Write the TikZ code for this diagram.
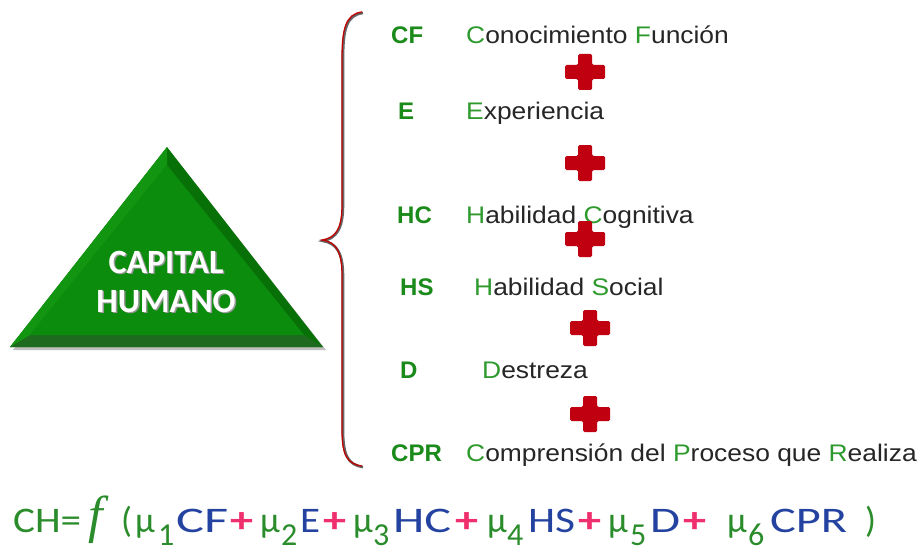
\documentclass[tikz,border=0pt]{standalone}
\usepackage{fontspec}
\setmainfont{Liberation Sans}
\newfontfamily\carl{Carlito}
\newfontfamily\fserif{Liberation Serif}
\definecolor{tri}{HTML}{0C8C0C}
\definecolor{trileft}{HTML}{129612}
\definecolor{triright}{HTML}{077007}
\definecolor{tribot}{HTML}{1E6A1E}
\definecolor{abg}{HTML}{1A8A1A}
\definecolor{lg}{HTML}{2E9A2E}
\definecolor{crossred}{HTML}{C00010}
\definecolor{bracered}{HTML}{C00000}
\definecolor{fgreen}{HTML}{2A8C2A}
\definecolor{fblue}{HTML}{2443A0}
\definecolor{fpink}{HTML}{F0306E}
\newcommand\gl[1]{{\color{lg}#1}}
\newcommand\pc[2]{\makebox[#1pt][l]{#2}}
\newcommand\gmu[1]{\pc{#1}{\color{fgreen}μ}}
\newcommand\gsub[2]{\pc{#1}{\raisebox{-13pt}{\fontsize{32}{34}\selectfont\color{fgreen}#2}}}
\newcommand\bw[3]{\pc{#1}{\resizebox{#2pt}{\height}{\color{fblue}#3}}}
\newcommand\fplus[1]{\pc{#1}{\resizebox{23pt}{\height}{\bfseries\color{fpink}+}}}
\newcommand\shadowed[1]{\makebox[0pt][l]{\raisebox{-1.5pt}{\hspace{1.5pt}\color{black!40}#1}}#1}
\tikzset{
  abbr/.style={anchor=base west, inner sep=0pt, text=abg, font=\bfseries\fontsize{24}{28}\selectfont},
  desc/.style={anchor=base west, inner sep=0pt, text=black!85, font=\fontsize{24}{28}\selectfont},
  tritext/.style={font=\carl\bfseries\fontsize{34}{38}\selectfont, text=white, inner sep=0pt},
  redplus/.pic={
    \fill[crossred, rounded corners=1.5pt] (-7,-18) -- (7,-18) -- (7,-7) -- (20,-7) -- (20,7) -- (7,7) -- (7,18) -- (-7,18) -- (-7,7) -- (-20,7) -- (-20,-7) -- (-7,-7) -- cycle;
  }
}
\begin{document}
\begin{tikzpicture}[x=1pt,y=-1pt]
\path[use as bounding box, fill=white] (0,0) rectangle (924,551);
% triangle
\coordinate (A) at (167,147);
\coordinate (B) at (10,347);
\coordinate (C) at (323,347);
\coordinate (Ai) at (167,165);
\coordinate (Bi) at (30,335);
\coordinate (Ci) at (304,335);
\fill[black!25] (169,150) -- (13,350) -- (326,350) -- cycle;
\fill[triright] (A) -- (B) -- (C) -- cycle;
\fill[tribot] (B) -- (C) -- (Ci) -- (Bi) -- cycle;
\fill[trileft] (A) -- (B) -- (Bi) -- (Ai) -- cycle;
\fill[tri] (Ai) -- (Bi) -- (Ci) -- cycle;
\node[tritext] (cap) at (166,263) {\shadowed{CAPITAL}};
\node[tritext] (hum) at (166,302) {\shadowed{HUMANO}};
% brace
\coordinate (bt) at (362,12);
\coordinate (bm) at (322,240);
\coordinate (bb) at (362,466);
\draw[black!60, line width=2.6pt] ([shift={(1,1)}]bt) .. controls (346,15) and (343,30) .. (343,60) -- (343,205) .. controls (343,230) and (336,238) .. ([shift={(1,1)}]bm) .. controls (336,243) and (343,252) .. (343,276) -- (343,430) .. controls (343,455) and (348,465) .. ([shift={(1,1)}]bb);
\draw[bracered, line width=1.3pt] (bt) .. controls (345,14) and (342,30) .. (342,60) -- (342,205) .. controls (342,230) and (335,238) .. (bm) .. controls (335,242) and (342,250) .. (342,275) -- (342,430) .. controls (342,455) and (347,464) .. (bb);
% rows
\node[abbr] (cf) at (391,44) {CF};
\node[desc] (cfd) at (466,44) {\scalebox{1.1}[1]{\gl{C}onocimiento \gl{F}unción}};
\node[abbr] (e) at (398,119) {E};
\node[desc] (ed) at (466,119) {\scalebox{1.1}[1]{\gl{E}xperiencia}};
\node[abbr] (hc) at (397,223) {HC};
\node[desc] (hcd) at (466,223) {\scalebox{1.1}[1]{\gl{H}abilidad \gl{C}ognitiva}};
\node[abbr] (hs) at (400,295) {HS};
\node[desc] (hsd) at (474,295) {\scalebox{1.1}[1]{\gl{H}abilidad \gl{S}ocial}};
\node[abbr] (d) at (400,378) {D};
\node[desc] (dd) at (482,378) {\scalebox{1.1}[1]{\gl{D}estreza}};
\node[abbr] (cpr) at (391,461) {CPR};
\node[desc] (cprd) at (466,461) {\scalebox{1.1}[1]{\gl{C}omprensión del \gl{P}roceso que \gl{R}ealiza}};
% crosses
\pic at (585,72) {redplus};
\pic at (585,163) {redplus};
\pic at (585,239) {redplus};
\pic at (590,328) {redplus};
\pic at (590,414) {redplus};
% formula
\node[anchor=base west, inner sep=0pt, font=\carl\fontsize{36}{40}\selectfont] (formula) at (13,532)
 {\pc{75}{\resizebox{68pt}{\height}{\color{fgreen}CH=}}%
  \pc{33}{\fserif\itshape\fontsize{52}{54}\selectfont\color{fgreen}f}%
  \pc{14}{\color{fgreen}(}%
  \gmu{23}\gsub{18}{1}\bw{54}{52}{CF}\fplus{30}%
  \gmu{21}\gsub{19}{2}\bw{23}{20}{E}\fplus{30}%
  \gmu{20}\gsub{20}{3}\bw{62}{58}{HC}\fplus{32}%
  \gmu{20}\gsub{21}{4}\bw{50}{47}{HS}\fplus{30}%
  \gmu{22}\gsub{20}{5}\bw{33}{30}{D}\fplus{44}%
  \gmu{21}\gsub{22}{6}\bw{95}{77}{CPR}%
  {\color{fgreen})}};
\end{tikzpicture}
\end{document}
